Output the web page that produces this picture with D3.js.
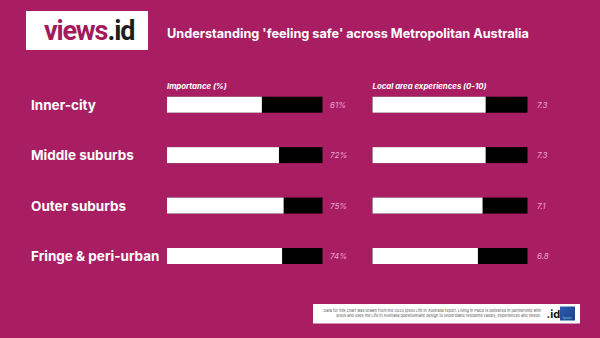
<!DOCTYPE html>
<html><head><meta charset="utf-8">
<script src="https://cdn.jsdelivr.net/npm/d3@7"></script>
<style>
html,body{margin:0;padding:0;background:#a91d63;}
svg{display:block;}
</style></head>
<body>
<script>
const categories = ["Inner-city", "Middle suburbs", "Outer suburbs", "Fringe & peri-urban"];
const importance = [61, 72, 75, 74];
const experiences = [7.3, 7.3, 7.1, 6.8];
const importanceMax = 100;
const experiencesMax = 10;
const headers = ["Importance (%)", "Local area experiences (0-10)"];
const title = "Understanding 'feeling safe' across Metropolitan Australia";
const footerLines = [
  "Data for this chart was drawn from the 2023 Ipsos Life in Australia report. Living in Place is delivered in partnership with",
  "Ipsos and uses the Life in Australia questionnaire design to understand residents values, experiences and needs."
];

const W = 600, H = 338;
const bg = "#a91d63";
const font = "Inter, Roboto, sans-serif";
const svg = d3.select("body").append("svg").attr("width", W).attr("height", H);
svg.append("rect").attr("width", W).attr("height", H).attr("fill", bg);

// logo
svg.append("rect").attr("x", 26).attr("y", 11).attr("width", 122).attr("height", 39).attr("fill", "#fff");
const views = svg.append("text").attr("x", 44).attr("y", 39.5)
  .attr("font-family", "Roboto, sans-serif").attr("font-weight", 700).attr("font-size", 27)
  .attr("letter-spacing", -1.2)
  .attr("fill", "#a3195b").text("views");
const vw = views.node().getComputedTextLength();
svg.append("text").attr("x", 44 + vw + 0.5).attr("y", 39.5)
  .attr("font-family", "Roboto, sans-serif").attr("font-weight", 700).attr("font-size", 27)
  .attr("letter-spacing", -1.2)
  .attr("fill", "#1e1e1e").text(".id");

// title
svg.append("text").attr("x", 167).attr("y", 34.5).attr("dominant-baseline", "middle")
  .attr("font-family", font).attr("font-weight", 700).attr("font-size", 12.7)
  .attr("fill", "#fff").text(title);

const y = d3.scalePoint().domain(categories).range([104.7, 256]);
const barH = 16;

const xImp = d3.scaleLinear().domain([0, importanceMax]).range([167, 322.5]);
const xExp = d3.scaleLinear().domain([0, experiencesMax]).range([372.5, 527.5]);

// category labels
svg.append("g").selectAll("text").data(categories).join("text")
  .attr("x", 31).attr("y", d => y(d)).attr("dominant-baseline", "central")
  .attr("font-family", font).attr("font-weight", 700).attr("font-size", 13.5)
  .attr("fill", "#fff").text(d => d);

function panel(values, x, max, header, fmt, labelX) {
  const g = svg.append("g");
  g.append("text").attr("x", x(0)).attr("y", 89)
    .attr("font-family", font).attr("font-weight", 700).attr("font-style", "italic").attr("font-size", 7.8)
    .attr("fill", "#fff").text(header);
  const rows = g.selectAll("g.row").data(categories.map((c, i) => ({c, v: values[i]}))).join("g").attr("class", "row");
  rows.append("rect").attr("x", x(0)).attr("y", d => y(d.c) - barH / 2)
    .attr("width", x(max) - x(0)).attr("height", barH).attr("fill", "#000");
  rows.append("rect").attr("x", x(0)).attr("y", d => y(d.c) - barH / 2)
    .attr("width", d => x(d.v) - x(0)).attr("height", barH).attr("fill", "#fff");
  rows.append("text").attr("x", labelX).attr("y", d => y(d.c)).attr("dominant-baseline", "central")
    .attr("font-family", font).attr("font-style", "italic").attr("font-size", 8)
    .attr("fill", "#eaa3cb").text(d => fmt(d.v));
}
panel(importance, xImp, importanceMax, headers[0], v => v + "%", 330);
panel(experiences, xExp, experiencesMax, headers[1], v => d3.format(".1f")(v), 537);

// footer
svg.append("rect").attr("x", 313).attr("y", 304).attr("width", 267).attr("height", 19.5).attr("fill", "#fff");
svg.append("g").selectAll("text").data(footerLines).join("text")
  .attr("x", 541).attr("y", (d, i) => 311.5 + i * 5).attr("text-anchor", "end")
  .attr("font-family", font).attr("font-size", 3.85).attr("fill", "#555").text(d => d);
svg.append("text").attr("x", 546.5).attr("y", 318).attr("font-family", font).attr("font-weight", 700)
  .attr("font-size", 11).attr("fill", "#111").text(".id");
const defs = svg.append("defs");
const grad = defs.append("linearGradient").attr("id", "ipsos").attr("x1", 0).attr("y1", 0).attr("x2", 1).attr("y2", 1);
grad.append("stop").attr("offset", 0).attr("stop-color", "#2a5db0");
grad.append("stop").attr("offset", 1).attr("stop-color", "#1e3f8a");
svg.append("rect").attr("x", 560).attr("y", 306.5).attr("width", 15).attr("height", 14).attr("fill", "url(#ipsos)");
svg.append("text").attr("x", 567.5).attr("y", 318.5).attr("text-anchor", "middle").attr("font-family", font)
  .attr("font-size", 3.5).attr("fill", "#7fd3e0").text("Ipsos");
</script>
</body></html>
